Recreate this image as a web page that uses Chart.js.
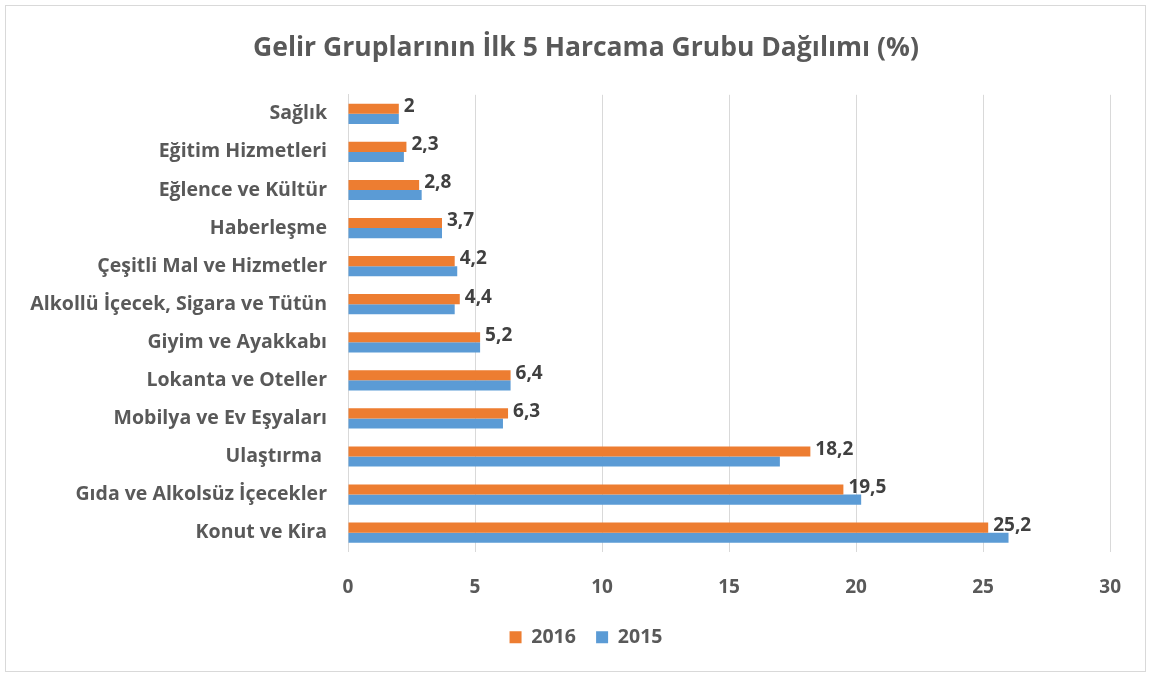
<!DOCTYPE html>
<html>
<head>
<meta charset="utf-8">
<script src="https://cdn.jsdelivr.net/npm/chart.js@4.4.1/dist/chart.umd.min.js"></script>
<style>
    body { margin: 0; background: #fff; }
    #box {
        position: absolute;
        left: 5px;
        top: 5px;
        width: 1141px;
        height: 667px;
        border: 1px solid #d9d9d9;
        box-sizing: border-box;
    }
</style>
</head>
<body>
<div id="box"><canvas id="chartfield"></canvas></div>
<script>
const categories = [
    "Sağlık",
    "Eğitim Hizmetleri",
    "Eğlence ve Kültür",
    "Haberleşme",
    "Çeşitli Mal ve Hizmetler",
    "Alkollü İçecek, Sigara ve Tütün",
    "Giyim ve Ayakkabı",
    "Lokanta ve Oteller",
    "Mobilya ve Ev Eşyaları",
    "Ulaştırma ",
    "Gıda ve Alkolsüz İçecekler",
    "Konut ve Kira",
];
const values2016 = [2, 2.3, 2.8, 3.7, 4.2, 4.4, 5.2, 6.4, 6.3, 18.2, 19.5, 25.2];
const values2015 = [2, 2.2, 2.9, 3.7, 4.3, 4.2, 5.2, 6.4, 6.1, 17.0, 20.2, 26.0];
const xTicks = [0, 5, 10, 15, 20, 25, 30];

const fontName = "'Open Sans'";

// labels on the 2016 bars, decimal comma like the original
const barLabels = {
    id: "barLabels",
    afterDatasetsDraw(chart) {
        const ctx = chart.ctx;
        const meta = chart.getDatasetMeta(0);
        ctx.save();
        ctx.font = `bold 19px ${fontName}`;
        ctx.fillStyle = "#404040";
        ctx.textAlign = "left";
        ctx.textBaseline = "middle";
        meta.data.forEach((bar, i) => {
            const txt = String(values2016[i]).replace(".", ",");
            ctx.fillText(txt, bar.x + 5, bar.y - 2);
        });
        ctx.restore();
    },
};

// the left padding only centres title and legend; let the long y labels use it
const wideLabels = {
    id: "wideLabels",
    afterLayout(chart) {
        chart.scales.y.left = 0;
    },
};

document.addEventListener("DOMContentLoaded", () => {
    const canvas = document.querySelector("#chartfield");
    new Chart(canvas, {
        type: "bar",
        data: {
            labels: categories,
            datasets: [
                {
                    label: "2016",
                    data: values2016,
                    backgroundColor: "#ed7d31",
                    categoryPercentage: 0.53,
                    barPercentage: 1.0,
                },
                {
                    label: "2015",
                    data: values2015,
                    backgroundColor: "#5b9bd5",
                    categoryPercentage: 0.53,
                    barPercentage: 1.0,
                },
            ],
        },
        options: {
            indexAxis: "y",
            responsive: true,
            maintainAspectRatio: false,
            animation: false,
            layout: { padding: { left: 22, right: 1, top: 0, bottom: 14 } },
            scales: {
                x: {
                    min: 0,
                    max: 30,
                    afterBuildTicks: (scale) => {
                        scale.ticks = xTicks.map((v) => ({ value: v }));
                    },
                    grid: { color: "#d9d9d9", drawTicks: false, lineWidth: 1 },
                    border: { display: false },
                    ticks: {
                        padding: 24,
                        color: "#595959",
                        font: { family: fontName, size: 19, weight: "bold" },
                    },
                },
                y: {
                    afterFit: (scale) => {
                        scale.width = 320;
                    },
                    grid: { display: false },
                    border: { display: true, color: "#d9d9d9" },
                    ticks: {
                        padding: 13,
                        color: "#595959",
                        font: { family: fontName, size: 19.5, weight: "bold" },
                    },
                },
            },
            plugins: {
                title: {
                    display: true,
                    text: "Gelir Gruplarının İlk 5 Harcama Grubu Dağılımı (%)",
                    color: "#595959",
                    font: { family: fontName, size: 26.5, weight: "bold" },
                    padding: { top: 27, bottom: 30 },
                },
                legend: {
                    position: "bottom",
                    labels: {
                        boxWidth: 12,
                        boxHeight: 12,
                        padding: 5,
                        color: "#595959",
                        font: { family: fontName, size: 19.5, weight: "bold" },
                        // small padding keeps the legend low, spaces keep the items apart
                        generateLabels: (chart) => {
                            const items = Chart.defaults.plugins.legend.labels.generateLabels(chart);
                            items.forEach((item, i) => {
                                if (i < items.length - 1) item.text += "   ";
                            });
                            return items;
                        },
                    },
                },
                tooltip: { enabled: false },
            },
        },
        plugins: [barLabels, wideLabels],
    });
});
</script>
</body>
</html>
